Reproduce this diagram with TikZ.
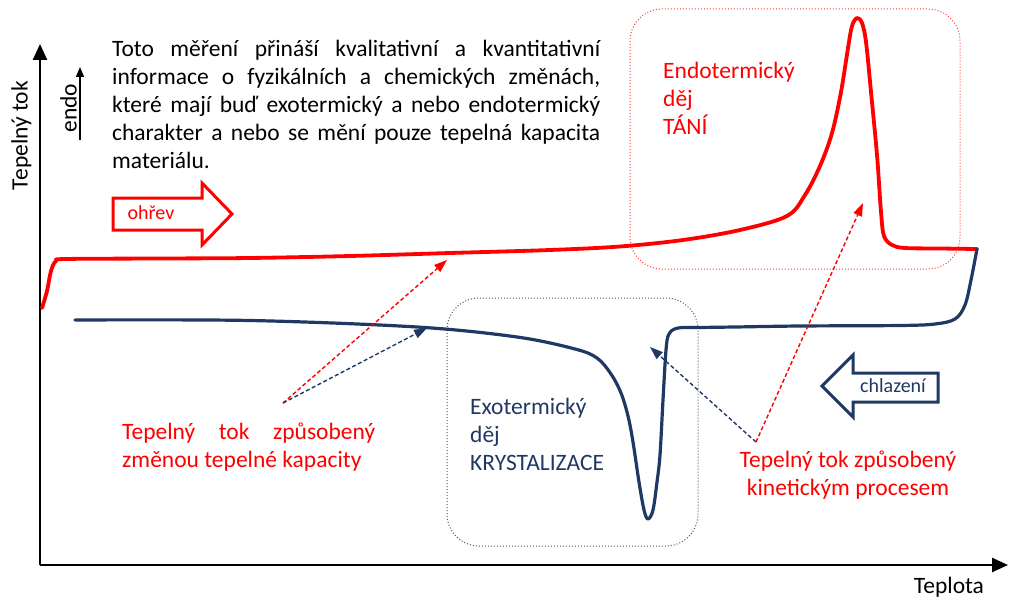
\documentclass[tikz,border=0pt]{standalone}
\usepackage{fontspec}
\setmainfont{Carlito}
\usetikzlibrary{arrows.meta}
\definecolor{navy}{HTML}{1F3864}
\definecolor{myred}{HTML}{FF0000}
\definecolor{boxred}{HTML}{FF4040}
\definecolor{boxgray}{HTML}{555555}
\begin{document}
\begin{tikzpicture}[x=1pt,y=-1pt,
  txt/.style={font=\fontsize{23.5}{28}\selectfont, inner sep=0pt},
  small/.style={font=\fontsize{20}{24}\selectfont, inner sep=0pt},
  axis/.style={line width=2.5pt, -{Triangle[length=16pt,width=14pt]}},
  redcurve/.style={myred, line width=3.8pt, line join=round, line cap=round},
  navycurve/.style={navy, line width=3.2pt, line join=round, line cap=round},
  dasharrow/.style={line width=1.4pt, dash pattern=on 4pt off 2.5pt, -{Triangle[length=13pt,width=9pt]}},
  zonebox/.style={dotted, line width=1pt, rounded corners=32pt},
  bigarrow/.style={line width=3pt, line join=miter, fill=white}
]
\useasboundingbox (0,0) rectangle (1009,599);

% axes
\coordinate (origin) at (40,565);
\coordinate (ytop) at (40,44);
\coordinate (xend) at (1008,565);
\draw[axis] (origin) -- (ytop);
\draw[axis] (origin) -- (xend);
\node[txt, rotate=90, anchor=base] (ylabel) at (27.5,135.5) {Tepelný tok};
\node[txt, anchor=center] (xlabel) at (949,587) {Teplota};
\node[txt, rotate=90, anchor=base] (endo) at (76.5,108) {endo};
\coordinate (endoA) at (80,140);
\coordinate (endoB) at (80,67);
\draw[line width=1.5pt, -{Triangle[length=10pt,width=8pt]}] (endoA) -- (endoB);

% paragraph (base anchor = last line)
\node[txt, anchor=base west, align=left] (para) at (112,168.5) {%
\makebox[488pt][s]{Toto měření přináší kvalitativní a kvantitativní}\\
\makebox[488pt][s]{informace o fyzikálních a chemických změnách,}\\
\makebox[488pt][s]{které mají buď exotermický a nebo endotermický}\\
\makebox[488pt][s]{charakter a nebo se mění pouze tepelná kapacita}\\
materiálu.};

% zone boxes
\draw[zonebox, boxred] (630,9) rectangle (960,269);
\draw[zonebox, boxgray] (447,298) rectangle (698,546);

% red heating curve
\draw[redcurve] plot[smooth, tension=0.55] coordinates {
 (42,308) (47,291) (51,271) (56,261) (66,259) (160,258.5) (250,258) (350,256)
 (450,253) (550,250) (620,246.5) (683,240) (740,230) (787,216) (805,195)
 (820,166) (832,133) (841,92) (848,48) (852,26) (857,18) (862,23) (866,42)
 (871,92) (877,155) (881,212) (884,236) (892,245) (905,248) (940,248.5) (977,249)};

% navy cooling curve
\draw[navycurve] plot[smooth, tension=0.55] coordinates {
 (75,320) (250,320.5) (417,327) (517,337) (575,349) (597,358) (611,374)
 (621,393) (628,416) (633,442) (639,482) (644,510) (648,519) (653,510)
 (657,482) (660,455) (663,400) (666,350) (669,334) (678,328) (700,327.5)
 (735,327) (800,326) (900,325.5) (935,324) (955,319) (965,305) (971,280) (977,249)};

% process texts
\node[txt, anchor=base west, align=left, text=myred] (endotxt) at (663,134.5)
  {Endotermický\\děj\\TÁNÍ};
\node[txt, anchor=base west, align=left, text=navy] (exotxt) at (470,470.5)
  {Exotermický\\děj\\KRYSTALIZACE};

% heating arrow
\draw[bigarrow, draw=myred] (113,198) -- (202,198) -- (202,183) -- (232,214)
  -- (202,245) -- (202,230) -- (113,230) -- cycle;
\node[small, text=myred] (ohrev) at (151,213) {ohřev};

% cooling arrow
\draw[bigarrow, draw=navy] (938,373) -- (853,373) -- (853,355) -- (822,386)
  -- (853,417) -- (853,402) -- (938,402) -- cycle;
\node[small, text=navy] (chlaz) at (893,386) {chlazení};

% explanatory texts
\node[txt, anchor=base west, align=left, text=myred] (captxt) at (122,467.5)
  {\makebox[253pt][s]{Tepelný tok způsobený}\\změnou tepelné kapacity};
\node[txt, anchor=base, align=center, text=myred] (kintxt) at (848,495.5)
  {Tepelný tok způsobený\\kinetickým procesem};

% dashed pointers
\coordinate (capsrc) at (283,403);
\coordinate (kinsrc) at (756,442);
\coordinate (capred) at (447,260);
\coordinate (capnavy) at (427,328);
\coordinate (kinnavy) at (650,347);
\coordinate (kinred) at (863,203);
\draw[dasharrow, myred] (capsrc) -- (capred);
\draw[dasharrow, navy] (capsrc) -- (capnavy);
\draw[dasharrow, navy] (kinsrc) -- (kinnavy);
\draw[dasharrow, myred] (kinsrc) -- (kinred);
\end{tikzpicture}
\end{document}
